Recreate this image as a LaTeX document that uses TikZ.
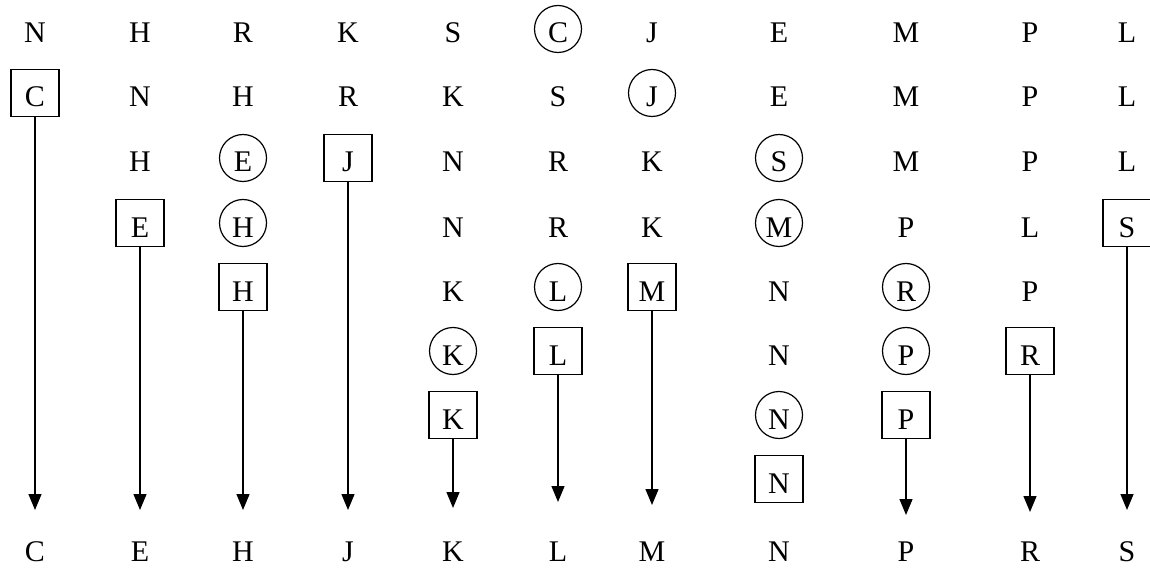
\documentclass[tikz,border=0pt]{standalone}
\usepackage{fontspec}
\setmainfont{Liberation Serif}
\usetikzlibrary{arrows.meta}
\begin{document}
\begin{tikzpicture}[x=1pt,y=-1pt,
  every node/.style={font=\fontsize{30}{36}\selectfont, text height=28pt, text depth=0pt, inner sep=0pt},
  bx/.style={draw, line width=1.4pt, minimum width=48pt, minimum height=47pt},
  cc/.style={draw, circle, line width=1.2pt, minimum size=47pt},
  arr/.style={line width=1.4pt, -{Triangle[length=16pt,width=13pt]}}]
\useasboundingbox (0,0) rectangle (1150,569);
% column a
\node (a1) at (35,29) {N};
\node[bx] (a2) at (35,93) {C};
% column b
\node (b1) at (140,29) {H};
\node (b2) at (140,93) {N};
\node (b3) at (140,158) {H};
\node[bx] (b4) at (140,223) {E};
% column c
\node (c1) at (243,29) {R};
\node (c2) at (243,93) {H};
\node[cc] (c3) at (243,158) {E};
\node[cc] (c4) at (243,223) {H};
\node[bx] (c5) at (243,287) {H};
% column d
\node (d1) at (348,29) {K};
\node (d2) at (348,93) {R};
\node[bx] (d3) at (348,158) {J};
% column e
\node (e1) at (453,29) {S};
\node (e2) at (453,93) {K};
\node (e3) at (453,158) {N};
\node (e4) at (453,223) {N};
\node (e5) at (453,287) {K};
\node[cc] (e6) at (453,351) {K};
\node[bx] (e7) at (453,415) {K};
% column f
\node[cc] (f1) at (558,29) {C};
\node (f2) at (558,93) {S};
\node (f3) at (558,158) {R};
\node (f4) at (558,223) {R};
\node[cc] (f5) at (558,287) {L};
\node[bx] (f6) at (558,351) {L};
% column g
\node (g1) at (652,29) {J};
\node[cc] (g2) at (652,93) {J};
\node (g3) at (652,158) {K};
\node (g4) at (652,223) {K};
\node[bx] (g5) at (652,287) {M};
% column h
\node (h1) at (779,29) {E};
\node (h2) at (779,93) {E};
\node[cc] (h3) at (779,158) {S};
\node[cc] (h4) at (779,223) {M};
\node (h5) at (779,287) {N};
\node (h6) at (779,351) {N};
\node[cc] (h7) at (779,415) {N};
\node[bx] (h8) at (779,479) {N};
% column i
\node (i1) at (906,29) {M};
\node (i2) at (906,93) {M};
\node (i3) at (906,158) {M};
\node (i4) at (906,223) {P};
\node[cc] (i5) at (906,287) {R};
\node[cc] (i6) at (906,351) {P};
\node[bx] (i7) at (906,415) {P};
% column j
\node (j1) at (1030,29) {P};
\node (j2) at (1030,93) {P};
\node (j3) at (1030,158) {P};
\node (j4) at (1030,223) {L};
\node (j5) at (1030,287) {P};
\node[bx] (j6) at (1030,351) {R};
% column k
\node (k1) at (1127,29) {L};
\node (k2) at (1127,93) {L};
\node (k3) at (1127,158) {L};
\node[bx] (k4) at (1127,223) {S};
% bottom row
\node (za) at (35,547) {C};
\node (zb) at (140,547) {E};
\node (zc) at (243,547) {H};
\node (zd) at (348,547) {J};
\node (ze) at (453,547) {K};
\node (zf) at (558,547) {L};
\node (zg) at (652,547) {M};
\node (zh) at (779,547) {N};
\node (zi) at (906,547) {P};
\node (zj) at (1030,547) {R};
\node (zk) at (1127,547) {S};
% arrow tips
\coordinate (ta) at (35,510);
\coordinate (tb) at (140,510);
\coordinate (tc) at (243,510);
\coordinate (td) at (348,510);
\coordinate (te) at (453,508);
\coordinate (tf) at (558,502);
\coordinate (tg) at (652,505);
\coordinate (ti) at (906,515);
\coordinate (tj) at (1030,512);
\coordinate (tk) at (1127,510);
% arrows
\draw[arr] (a2) -- (ta);
\draw[arr] (b4) -- (tb);
\draw[arr] (c5) -- (tc);
\draw[arr] (d3) -- (td);
\draw[arr] (e7) -- (te);
\draw[arr] (f6) -- (tf);
\draw[arr] (g5) -- (tg);
\draw[arr] (i7) -- (ti);
\draw[arr] (j6) -- (tj);
\draw[arr] (k4) -- (tk);
\end{tikzpicture}
\end{document}
